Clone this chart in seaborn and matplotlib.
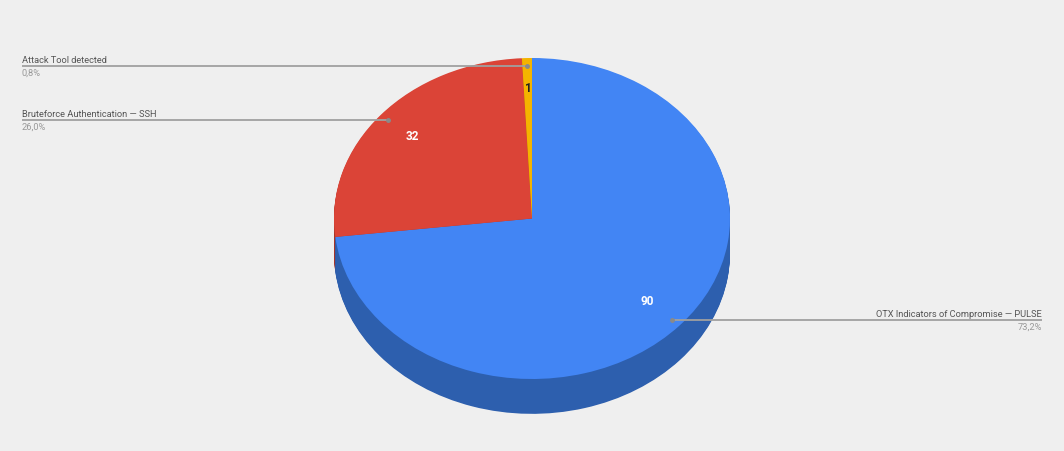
# Alert categories - pie chart with fake 3D side
import math

import matplotlib.pyplot as plt
from matplotlib import font_manager
import seaborn as sns

categories = ['OTX Indicators of Compromise — PULSE', 'Bruteforce Authentication — SSH', 'Attack Tool detected']
values = [90, 32, 1]
percent_labels = ['73,2%', '26,0%', '0,8%']
value_colors = ['white', 'white', '#222222']
value_radius = [0.78, 0.79, 0.81]

colors = ['#4285f4', '#db4437', '#f4b400']
side_colors = ['#2d5fae', '#a5352a', '#b38600']

sns.set_theme(style='white')
plt.rcParams['font.family'] = ['Roboto', 'DejaVu Sans']

# the labels are narrow in the original, use the narrow face if there is one
installed = {f.name for f in font_manager.fontManager.ttflist}
if 'Liberation Sans Narrow' in installed:
    label_font, label_size = 'Liberation Sans Narrow', 8.2
else:
    label_font, label_size = 'Roboto', 6.7

bg = '#efefef'
fig = plt.figure(figsize=(10.64, 4.51), dpi=100, facecolor=bg)
ax = fig.add_axes([0, 0, 1, 1])

# pie ellipse in pixels: x radius 198, y radius 160.5, centre (532, 218.5)
radius = 198
squash = 160.5 / 198
depth = 34 / squash

# side of the pie, stacked from the bottom up
for i in range(round(depth) + 1, 0, -1):
    ax.pie(values, colors=side_colors, startangle=90, counterclock=False,
           radius=radius, center=(0, -i), wedgeprops={'linewidth': 0})
ax.pie(values, colors=colors, startangle=90, counterclock=False,
       radius=radius, center=(0, 0), wedgeprops={'linewidth': 0})

ax.set_aspect('auto')
ax.set_xlim(-532, 532)
ax.set_ylim(-(451 - 218.5) / squash, 218.5 / squash)
ax.axis('off')

cum = 0
for i, v in enumerate(values):
    mid = (cum + v / 2) / sum(values)
    cum += v
    sin_a = math.sin(2 * math.pi * mid)
    cos_a = math.cos(2 * math.pi * mid)

    # number inside the slice
    ax.text(radius * value_radius[i] * sin_a, radius * value_radius[i] * cos_a, str(v),
            color=value_colors[i], fontsize=8.5, fontweight='bold', ha='center', va='center')

    # leader line and its two labels
    x0 = radius * 0.95 * sin_a
    y0 = radius * 0.95 * cos_a
    right = sin_a > 0
    x1 = 510 if right else -510
    ax.plot([x0, x1], [y0, y0], color='#a0a0a0', lw=1.3, solid_capstyle='butt')
    ax.plot([x0], [y0], 'o', color='#8a8a8a', ms=2.5)
    ha = 'right' if right else 'left'
    ax.annotate(categories[i], xy=(x1, y0), xytext=(0, 0.6), textcoords='offset points',
                ha=ha, va='bottom', fontsize=label_size, color='#555555', family=label_font)
    ax.annotate(percent_labels[i], xy=(x1, y0), xytext=(0, -1.8), textcoords='offset points',
                ha=ha, va='top', fontsize=label_size, color='#999999', family=label_font)

fig.savefig('out.png', dpi=100, facecolor=bg)
